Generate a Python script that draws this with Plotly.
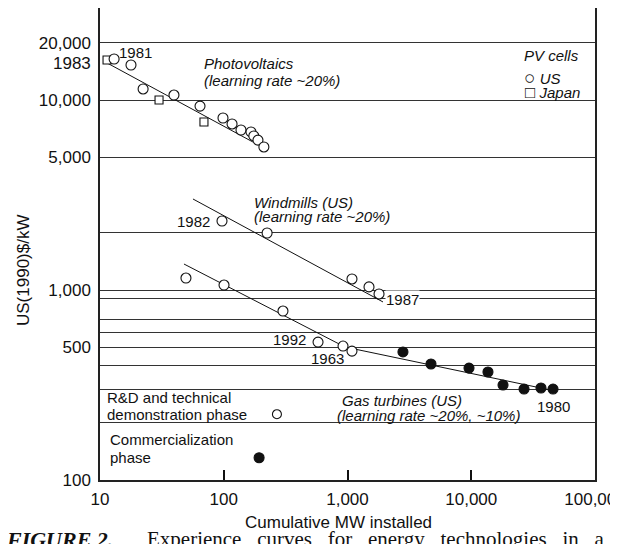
import plotly.graph_objects as go

# ---------------- data ----------------
# Photovoltaics, US (open circles)
pv_us_x = [13.0, 17.8, 22.3, 39.6, 64.3, 98.6, 116.7, 137.8, 166, 175, 189, 211]
pv_us_y = [16440, 15280, 11430, 10620, 9290, 8040, 7480, 6950, 6790, 6470, 6150, 5660]
# Photovoltaics, Japan (open squares)
pv_jp_x = [11.4, 30.0, 69.2]
pv_jp_y = [16240, 10000, 7660]
# Photovoltaics fitted line
pv_fit_x = [11.4, 172]
pv_fit_y = [15670, 6010]

# Windmills (US)
wind_x = [96.8, 224, 1087, 1492, 1798]
wind_y = [2307, 1995, 1143, 1038, 953]
wind_fit_x = [56.4, 1936]
wind_fit_y = [3013, 865]

# Gas turbines (US): R&D / demonstration phase (open)
gas_rd_x = [49.5, 100.5, 301, 578, 920, 1087]
gas_rd_y = [1156, 1062, 775, 532, 507, 477]
# Gas turbines (US): commercialization phase (filled)
gas_com_x = [2806, 4727, 9590, 13650, 18060, 26700, 36600, 45800]
gas_com_y = [472, 408, 388, 370, 316, 301, 305, 301]
gas_fit_x = [47.7, 955, 43250]
gas_fit_y = [1370, 501, 298]

# legend key markers
key_rd_x, key_rd_y = [269], [222]
key_com_x, key_com_y = [193], [131]

# axes
x_tickvals = [10, 100, 1000, 10000, 100000]
x_ticktext = ["10", "100", "1,000", "10,000", "100,000"]
y_gridvals = [100, 200, 300, 400, 500, 600, 700, 900, 1000, 2000, 5000, 10000, 20000]
y_labels = {100: "100", 500: "500", 1000: "1,000", 5000: "5,000",
            10000: "10,000", 20000: "20,000"}

FONT = "Liberation Sans, Arial, sans-serif"
SERIF = "Liberation Serif, Times New Roman, serif"

fig = go.Figure()

def line(x, y):
    fig.add_trace(go.Scatter(x=x, y=y, mode="lines",
                             line=dict(color="#111", width=1), hoverinfo="skip"))

def pts(x, y, symbol, size, filled):
    fig.add_trace(go.Scatter(
        x=x, y=y, mode="markers",
        marker=dict(symbol=symbol, size=size,
                    color="#111" if filled else "white",
                    line=dict(color="#111", width=1.1))))

line(pv_fit_x, pv_fit_y)
line(wind_fit_x, wind_fit_y)
line(gas_fit_x, gas_fit_y)
pts(pv_jp_x, pv_jp_y, "square", 8, False)
pts(pv_us_x, pv_us_y, "circle", 10, False)
pts(wind_x, wind_y, "circle", 10, False)
pts(gas_rd_x, gas_rd_y, "circle", 10, False)
pts(gas_com_x, gas_com_y, "circle", 10, True)
pts(key_rd_x, key_rd_y, "circle", 9, False)
pts(key_com_x, key_com_y, "circle", 10, True)

# ---------------- layout geometry (window pixels; page body has an 8px margin) ----------------
OFF = 8
W, H = 618 - OFF, 544 - OFF
L, R, T, B = 100, 595, 8, 480          # plot area in window pixels

def pxp(x):
    return (x - L) / (R - L)
def pyp(y):
    return (B - y) / (B - T)

texts = [
    # text, x px, y px, xanchor, size, italic, white bg
    ("1981", 118, 53, "left", 15, False, False),
    ("1983", 92, 63, "right", 17, False, False),
    ("Photovoltaics", 203, 63, "left", 15, True, False),
    ("(learning rate ~20%)", 203, 80, "left", 15, True, False),
    ("PV cells", 523, 56, "left", 15, True, False),
    ("<span style='font-size:19px'>○</span> <i>US</i>", 523, 77, "left", 15, False, False),
    ("<span style='font-size:17px'>□</span> <i>Japan</i>", 524, 93, "left", 15, False, False),
    ("Windmills (US)", 253, 202, "left", 15, True, False),
    ("(learning rate ~20%)", 253, 216, "left", 15, True, False),
    ("1982", 176, 221, "left", 15, False, False),
    ("1987", 385, 299, "left", 15, False, True),
    ("1992", 272, 339, "left", 15, False, False),
    ("1963", 310, 358, "left", 15, False, False),
    ("Gas turbines (US)", 402, 400, "center", 15, True, False),
    ("(learning rate ~20%, ~10%)", 428, 415, "center", 15, True, False),
    ("1980", 536, 406, "left", 15, False, False),
    ("R&D and technical", 106, 397, "left", 15, False, False),
    ("demonstration phase", 106, 414, "left", 15, False, False),
    ("Commercialization", 109, 439, "left", 15, False, False),
    ("phase", 109, 457, "left", 15, False, False),
]
anns = []
for t, x, y, xa, s, it, bg in texts:
    anns.append(dict(
        text=f"<i>{t}</i>" if it else t, x=pxp(x), y=pyp(y),
        xref="paper", yref="paper", xanchor=xa, yanchor="middle",
        showarrow=False, font=dict(family=FONT, size=s, color="#111"),
        bgcolor="white" if bg else "rgba(0,0,0,0)", borderpad=0))

# axis titles
anns.append(dict(text="US(1990)$/kW", x=pxp(23), y=pyp(271), xref="paper", yref="paper",
                 textangle=-90, showarrow=False, xanchor="center", yanchor="middle",
                 font=dict(family=FONT, size=17, color="#111")))
anns.append(dict(text="Cumulative MW installed", x=pxp(338), y=pyp(522), xref="paper",
                 yref="paper", showarrow=False, xanchor="center", yanchor="middle",
                 font=dict(family=FONT, size=17, color="#111")))
# caption (cut at bottom of the picture)
nb = "\u00a0" * 3
anns.append(dict(text="<b><i>FIGURE 2.</i></b>", x=pxp(4), y=pyp(525), xref="paper",
                 yref="paper", showarrow=False, xanchor="left", yanchor="top",
                 font=dict(family=SERIF, size=22, color="#111")))
anns.append(dict(text=nb.join(["Experience", "curves", "for", "energy", "technologies", "in", "a"]),
                 x=pxp(145), y=pyp(525), xref="paper", yref="paper", showarrow=False,
                 xanchor="left", yanchor="top", font=dict(family=SERIF, size=21, color="#111")))

fig.update_layout(
    width=W, height=H,
    margin=dict(l=L - OFF, r=W - (R - OFF), t=T - OFF, b=H - (B - OFF)),
    paper_bgcolor="white", plot_bgcolor="white",
    showlegend=False,
    font=dict(family=FONT, size=17, color="#111"),
    annotations=anns,
    xaxis=dict(type="log", range=[1, 5], tickvals=x_tickvals, ticktext=x_ticktext,
               ticks="inside", ticklen=10, tickwidth=1.5, tickcolor="#111",
               showgrid=False, showline=True, mirror=True, linecolor="#222",
               linewidth=1.5, zeroline=False, automargin=False,
               ticklabeloverflow="allow",
               tickfont=dict(family=FONT, size=17, color="#111"), ticklabelstandoff=3),
    yaxis=dict(type="log", range=[2, 2 + (B - T) / 190], tickvals=y_gridvals,
               ticktext=[y_labels.get(v, "") for v in y_gridvals],
               ticks="", showgrid=True, gridcolor="#333", gridwidth=1,
               showline=True, mirror=True, linecolor="#222", linewidth=1.5,
               zeroline=False, automargin=False,
               tickfont=dict(family=FONT, size=17, color="#111"), ticklabelstandoff=4),
)

fig.write_html("out.html")
